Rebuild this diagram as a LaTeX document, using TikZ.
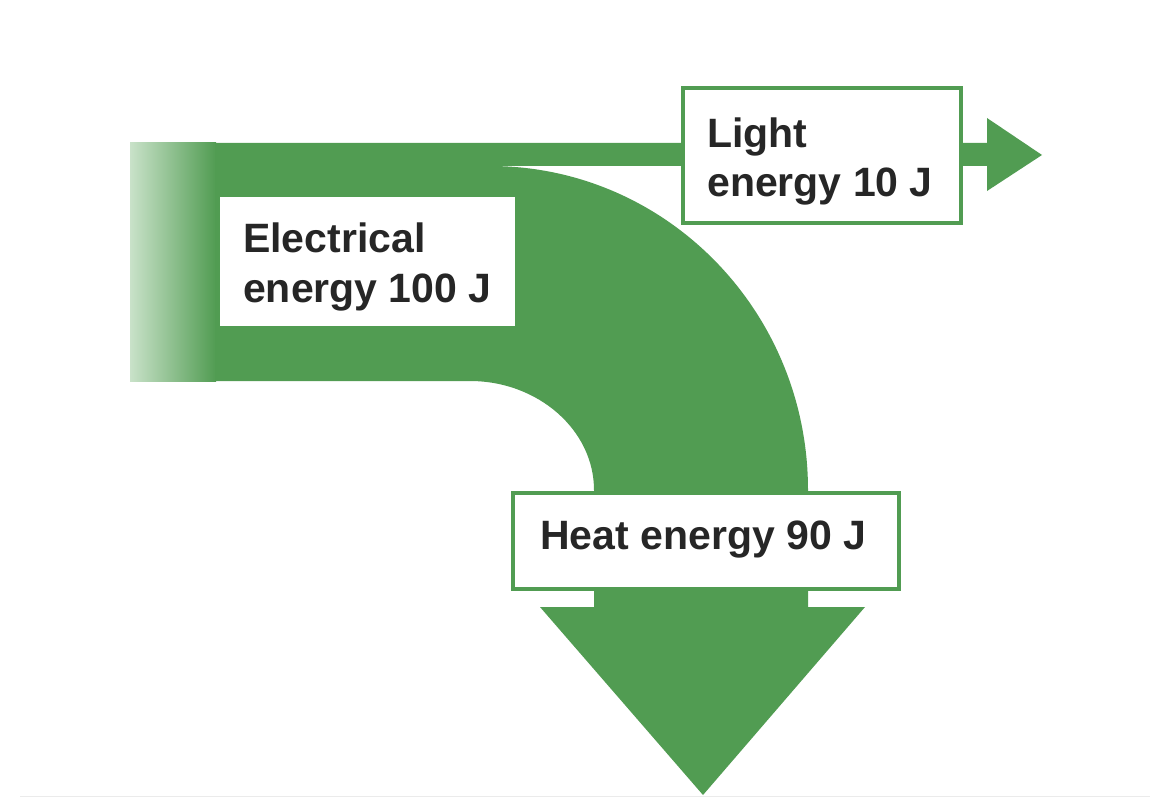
\documentclass[tikz,border=0pt]{standalone}
\usepackage{fontspec}
\setmainfont{Liberation Sans}
\definecolor{gr}{HTML}{519C52}
\definecolor{grl}{HTML}{C9E2C9}
\definecolor{txt}{HTML}{262626}
\begin{document}
\begin{tikzpicture}[x=1pt,y=-1pt,
  box/.style={draw=gr,line width=4pt,fill=white,inner sep=0pt,anchor=north west},
  lbl/.style={anchor=base west,inner sep=0pt,text=txt,font=\fontsize{41}{52}\selectfont\bfseries,align=left}]
\useasboundingbox (0,0) rectangle (1170,797);
\fill[white] (0,0) rectangle (1170,797);
\draw[black!8,line width=1pt] (20,796) -- (1150,796);
% gradient start
\shade[left color=grl,right color=gr] (130,143) rectangle (216,381);
% main body
\fill[gr] (215,143) -- (988,143) -- (988,166) -- (490,166)
  .. controls (666,166) and (808,311) .. (808,490)
  -- (808,607) -- (865,607) -- (703,795) -- (540,607) -- (594,607) -- (594,490)
  .. controls (594,430) and (538,381) .. (470,381) -- (215,381) -- cycle;
\fill[gr] (987,118) -- (1042,155) -- (987,191) -- cycle;
% boxes
\node[fill=white,inner sep=0pt,anchor=north west,minimum width=295pt,minimum height=129pt] (eb) at (220,197) {};
\node[box,minimum width=278pt,minimum height=135pt] (lb) at (681,86) {};
\node[box,minimum width=386pt,minimum height=96pt] (hb) at (511,491) {};
% labels
\node[lbl] (el1) at (243,252) {Electrical};
\node[lbl] (el2) at (243,302) {energy 100 J};
\node[lbl] (ll1) at (707,148) {Light};
\node[lbl] (ll2) at (707,196) {energy 10 J};
\node[lbl] (hl) at (540,549) {Heat energy 90 J};
\end{tikzpicture}
\end{document}
